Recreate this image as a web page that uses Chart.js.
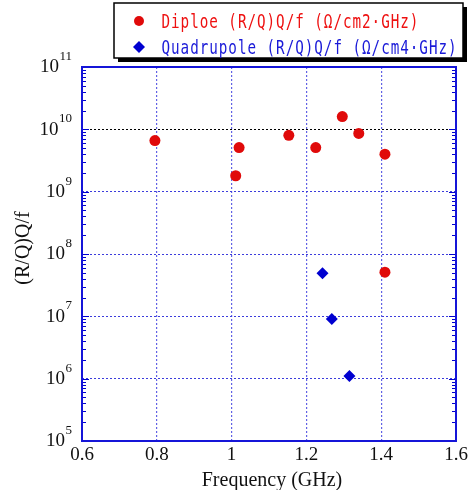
<!DOCTYPE html>
<html>
<head>
<meta charset="utf-8">
<script src="https://cdn.jsdelivr.net/npm/chart.js@4"></script>
<style>
  html, body { margin: 0; padding: 0; background: #fff; }
  #wrap { width: 473px; height: 490px; }
</style>
</head>
<body>
<div id="wrap"><canvas id="chart" width="473" height="490"></canvas></div>
<script>
// data
const dipoleFreq = [0.795, 1.011, 1.020, 1.153, 1.225, 1.296, 1.340, 1.410, 1.410];
const dipoleVal  = [6.6e9, 1.8e9, 5.1e9, 8.0e9, 5.1e9, 1.6e10, 8.6e9, 4.0e9, 5.1e7];
const quadFreq = [1.243, 1.268, 1.315];
const quadVal  = [4.9e7, 9.1e6, 1.1e6];
const xTicks = [0.6, 0.8, 1.0, 1.2, 1.4, 1.6];
const yExponents = [5, 6, 7, 8, 9, 10, 11];
const legendLabels = ['Diploe (R/Q)Q/f (Ω/cm2·GHz)', 'Quadrupole (R/Q)Q/f (Ω/cm4·GHz)'];

const RED = '#e00a0a';
const BLUE = '#0000d0';
const GRID = '#3c3cdc';
const SERIF = '"Liberation Serif", "DejaVu Serif", serif';

const toPoints = (xs, ys) => xs.map((x, i) => ({ x: x, y: ys[i] }));

// draws the frame, ticks, labels and the boxed legend
const decor = {
  id: 'decor',
  afterDraw(chart) {
    const ctx = chart.ctx;
    const xs = chart.scales.x, ys = chart.scales.y;
    const a = chart.chartArea;
    ctx.save();

    // minor / major ticks on left and right, inside
    ctx.strokeStyle = BLUE;
    ctx.lineWidth = 1;
    for (let e = yExponents[0]; e < yExponents[yExponents.length - 1]; e++) {
      for (let m = 1; m <= 9; m++) {
        const py = Math.round(ys.getPixelForValue(m * Math.pow(10, e))) + 0.5;
        const len = m === 1 ? 7 : 4;
        ctx.beginPath();
        ctx.moveTo(a.left, py); ctx.lineTo(a.left + len, py);
        ctx.moveTo(a.right, py); ctx.lineTo(a.right - len, py);
        ctx.stroke();
      }
    }

    // frame
    ctx.lineWidth = 2;
    ctx.strokeStyle = '#1515d8';
    ctx.strokeRect(a.left, a.top, a.right - a.left, a.bottom - a.top);

    // x tick labels
    ctx.fillStyle = '#111';
    ctx.font = '19px ' + SERIF;
    ctx.textAlign = 'center';
    ctx.textBaseline = 'alphabetic';
    xTicks.forEach(v => {
      const label = (v === 1.0) ? '1' : v.toFixed(1);
      ctx.fillText(label, xs.getPixelForValue(v), a.bottom + 19);
    });

    // y tick labels 10^n
    yExponents.forEach(e => {
      const py = ys.getPixelForValue(Math.pow(10, e));
      ctx.font = '13px ' + SERIF;
      const ew = ctx.measureText(String(e)).width;
      ctx.textAlign = 'right';
      ctx.textBaseline = 'alphabetic';
      ctx.fillText(String(e), a.left - 10, py - 7);
      ctx.font = '19px ' + SERIF;
      ctx.textBaseline = 'middle';
      ctx.fillText('10', a.left - 10 - ew - 0.5, py + 0.5);
    });

    // axis titles
    ctx.font = '20px ' + SERIF;
    ctx.textAlign = 'center';
    ctx.textBaseline = 'alphabetic';
    ctx.fillText('Frequency (GHz)', (a.left + a.right) / 2 + 3, 486);
    ctx.save();
    ctx.translate(29, 248);
    ctx.rotate(-Math.PI / 2);
    ctx.fillText('(R/Q)Q/f', 0, 0);
    ctx.restore();

    // legend box with shadow
    const bx = 114, by = 3, bw = 349, bh = 55;
    ctx.fillStyle = '#000';
    ctx.fillRect(bx + 4, by + 4, bw, bh);
    ctx.fillStyle = '#fff';
    ctx.fillRect(bx, by, bw, bh);
    ctx.lineWidth = 1.5;
    ctx.strokeStyle = '#000';
    ctx.strokeRect(bx, by, bw, bh);

    // legend markers
    ctx.fillStyle = RED;
    ctx.beginPath();
    ctx.arc(139, 21, 5, 0, Math.PI * 2);
    ctx.fill();
    ctx.fillStyle = BLUE;
    ctx.beginPath();
    ctx.moveTo(139, 41); ctx.lineTo(145, 47); ctx.lineTo(139, 53); ctx.lineTo(133, 47);
    ctx.closePath();
    ctx.fill();

    // legend text, narrow monospace
    const drawMono = (txt, x, y, color) => {
      ctx.save();
      ctx.font = '19px "DejaVu Sans Mono", "Liberation Mono", monospace';
      ctx.fillStyle = color;
      ctx.textAlign = 'left';
      ctx.textBaseline = 'alphabetic';
      const adv = 9.55;
      for (let i = 0; i < txt.length; i++) {
        const ch = txt[i];
        const w = ctx.measureText(ch).width;
        const sx = Math.min(1, adv / w) * 0.9;
        ctx.save();
        ctx.translate(x + i * adv + (adv - w * sx) / 2, y);
        ctx.scale(sx, 1);
        ctx.fillText(ch, 0, 0);
        ctx.restore();
      }
      ctx.restore();
    };
    drawMono(legendLabels[0], 161, 28, '#ee1010');
    drawMono(legendLabels[1], 161, 54, '#1a1ad8');

    ctx.restore();
  }
};

new Chart(document.getElementById('chart'), {
  type: 'scatter',
  data: {
    datasets: [
      {
        label: legendLabels[0],
        data: toPoints(dipoleFreq, dipoleVal),
        pointStyle: 'circle',
        pointRadius: 5.5,
        backgroundColor: RED,
        borderColor: RED,
        borderWidth: 0
      },
      {
        label: legendLabels[1],
        data: toPoints(quadFreq, quadVal),
        pointStyle: 'rectRot',
        pointRadius: 6,
        backgroundColor: BLUE,
        borderColor: BLUE,
        borderWidth: 0
      }
    ]
  },
  options: {
    responsive: false,
    animation: false,
    devicePixelRatio: 1,
    layout: { padding: { left: 82, right: 17, top: 67, bottom: 49 } },
    plugins: { legend: { display: false }, tooltip: { enabled: false } },
    scales: {
      x: {
        type: 'linear',
        min: 0.6, max: 1.6,
        afterBuildTicks: s => { s.ticks = xTicks.map(v => ({ value: v })); },
        ticks: { display: false },
        border: { display: false, dash: [2, 2] },
        grid: {
          drawTicks: false,
          color: 'rgba(70,70,225,0.85)',
          lineWidth: 1.2
        }
      },
      y: {
        type: 'logarithmic',
        min: 1e5, max: 1e11,
        afterBuildTicks: s => { s.ticks = yExponents.map(e => ({ value: Math.pow(10, e) })); },
        ticks: { display: false },
        border: { display: false, dash: [2, 2] },
        grid: {
          drawTicks: false,
          color: ctx => (ctx.tick && ctx.tick.value === 1e10) ? '#000' : GRID,
          lineWidth: 1
        }
      }
    }
  },
  plugins: [decor]
});
</script>
</body>
</html>
